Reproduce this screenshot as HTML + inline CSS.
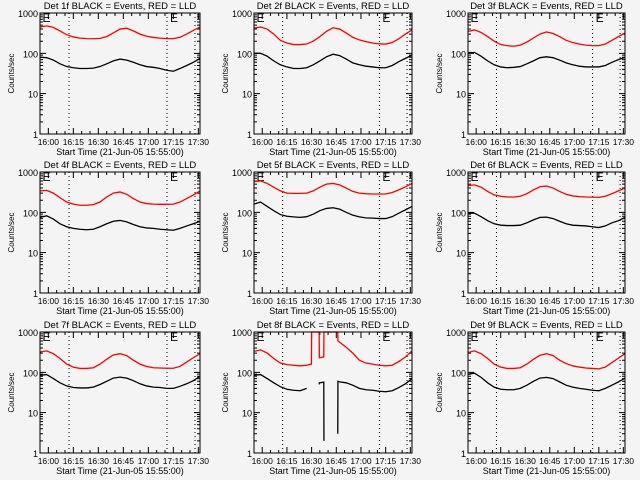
<!DOCTYPE html>
<html><head><meta charset="utf-8"><style>
html,body{margin:0;padding:0;background:#f4f4f4;}
svg{display:block;font-family:"Liberation Sans",sans-serif;}
</style></head><body>
<svg id="chart" width="640" height="480" viewBox="0 0 640 480"></svg>
<script>
const detLabels = ["1f","2f","3f","4f","5f","6f","7f","8f","9f"];
const times = [0,4,8,12,16,20,24,28,32,36,40,44,48,52,56,60,64,68,72,76,80,84,88,92,96];
const xTickLabels = ["16:00","16:15","16:30","16:45","17:00","17:15","17:30"];
const xTickMinutes = [5,20,35,50,65,80,95];
const yTickValues = [1,10,100,1000];
const yTickLabels = ["1","10","100","1000"];
const dottedMinutes = [17.4,76.2,93];
const eMarkerMinutes = [1.5,78];
const red1 = [450,480,440,360,290,255,238,232,230,235,260,320,400,420,360,300,265,248,238,232,232,250,300,370,450];
const blk1 = [80,78,68,55,47,44,42,42,43,47,55,65,72,68,60,52,47,45,42,38,36,42,50,60,75];
const red2 = [420,450,400,300,210,180,165,165,170,200,260,350,430,400,320,250,215,195,180,172,170,185,230,300,380];
const blk2 = [100,100,85,65,52,46,42,42,44,52,65,82,95,88,72,58,52,48,46,44,44,50,62,75,90];
const red3 = [350,380,330,260,200,165,155,150,160,190,240,300,340,310,260,210,185,170,160,155,155,170,210,260,320];
const blk3 = [105,105,85,65,52,46,44,45,47,55,65,78,82,78,68,58,52,48,46,46,46,50,60,70,80];
const red4 = [340,350,300,230,180,160,150,150,155,180,240,300,320,280,220,180,165,160,158,158,160,180,220,270,340];
const blk4 = [75,82,68,52,44,40,38,37,38,44,52,60,63,58,50,44,41,40,38,37,36,40,46,52,60];
const red5 = [580,600,520,420,340,300,295,295,300,340,420,500,520,480,400,330,300,290,285,285,285,310,360,430,520];
const blk5 = [160,180,140,110,88,80,77,75,78,90,110,125,130,120,100,85,77,73,72,70,70,78,95,115,140];
const red6 = [460,480,420,330,270,250,240,240,250,290,360,430,450,400,330,280,255,245,240,238,235,250,290,340,400];
const blk6 = [95,95,78,62,52,48,47,47,48,55,65,75,76,70,60,52,48,47,46,44,42,46,55,62,75];
const red7 = [320,340,290,220,160,135,125,125,130,160,210,270,290,260,200,160,140,130,128,126,126,140,180,230,290];
const blk7 = [85,88,70,55,46,42,41,41,43,50,60,72,76,72,62,52,46,43,42,40,40,45,52,62,80];
const red8Times = [0,4,8,12,16,20,24,28,32,34.9,35,39.6,39.7,42.4,42.5,50.9,51,52,56,60,64,68,72,76,80,84,88,92,96];
const red8 = [330,360,300,220,170,155,150,145,150,160,5000,5000,230,240,5000,5000,600,560,420,300,200,170,160,150,145,150,185,240,340];
const blk8Times = [0,4,8,12,16,20,24,28,32,34.9,39.6,39.7,42.4,42.5,46,50.9,51,52,56,60,64,68,72,76,80,84,88,92,96];
const blk8 = [85,88,70,55,44,38,36,35,40,null,50,55,57,2,null,3,60,58,55,48,40,37,36,34,33,35,42,52,70];
const red9 = [310,340,290,220,160,135,125,125,130,160,210,265,290,260,200,165,145,135,128,125,122,135,175,225,290];
const blk9 = [90,95,75,55,43,38,37,37,40,48,60,72,75,70,58,48,43,40,38,36,35,40,48,58,72];

const reds = [red1,red2,red3,red4,red5,red6,red7,red8,red9];
const blks = [blk1,blk2,blk3,blk4,blk5,blk6,blk7,blk8,blk9];
const redTimes = [times,times,times,times,times,times,times,red8Times,times];
const blkTimes = [times,times,times,times,times,times,times,blk8Times,times];

const NS = "http://www.w3.org/2000/svg";
const svg = document.getElementById("chart");
function mk(tag, attrs, parent){const e=document.createElementNS(NS,tag);for(const k in attrs)e.setAttribute(k,attrs[k]);(parent||svg).appendChild(e);return e;}
const colLeft=[40,254,468], colRight=[200,412,625], rowTop=[13,172,332], plotH=121, tMax=96;

for(let p=0;p<9;p++){
  const c=p%3, r=Math.floor(p/3);
  const L=colLeft[c], R=colRight[c], T=rowTop[r], B=T+plotH;
  const xs = m => L + (m/tMax)*(R-L);
  const ys = v => { const cv=Math.max(1,Math.min(1000,v)); return B - (Math.log10(cv)/3)*plotH; };
  const g = mk("g",{});
  
  
  const title = mk("text",{x:(L+R)/2,y:T-4,"text-anchor":"middle","font-size":"9.5"},g);
  title.textContent = "Det "+detLabels[p]+" BLACK = Events, RED = LLD";
  
  
  const ylab = mk("text",{x:0,y:0,"text-anchor":"middle","font-size":"8",transform:`translate(${L-26},${(T+B)/2}) rotate(-90)`},g);
  ylab.textContent = "Counts/sec";
  
  
  const xlab = mk("text",{x:(L+R)/2,y:B+21,"text-anchor":"middle","font-size":"9"},g);
  xlab.textContent = "Start Time (21-Jun-05 15:55:00)";
  
  
  dottedMinutes.forEach(m=>{const l=mk("line",{x1:xs(m),x2:xs(m),y1:T,y2:B,stroke:"#000","stroke-width":1,"stroke-dasharray":"1,3"},g);
    
    });
  eMarkerMinutes.forEach(m=>{const t=mk("text",{x:xs(m),y:T+9,"font-size":"12"},g);t.textContent="E";
    
    });
  let tk="";
  for(let d=0;d<3;d++)for(let k=1;k<10;k++){const y=ys(Math.pow(10,d)*k);const len=k===1?6:3;tk+=`M${L},${y}h${len}M${R},${y}h${-len}`;}
  for(let m=0;m<=tMax;m+=5){const x=xs(m);const len=((m-5)%15===0)?6:3;tk+=`M${x},${B}v${-len}M${x},${T}v${len}`;}
  const ticks=mk("path",{d:tk,stroke:"#000","stroke-width":1,fill:"none"},g);
  
  
  yTickValues.forEach((v,i)=>{const t=mk("text",{x:L-2,y:ys(v)+4,"text-anchor":"end","font-size":"9"},g);t.textContent=yTickLabels[i];
    
    });
  xTickMinutes.forEach((m,i)=>{const t=mk("text",{x:xs(m),y:B+11,"text-anchor":"middle","font-size":"8.5"},g);t.textContent=xTickLabels[i];
    
    });
  function series(tt,vv,color,name){
    let d="",pen=false;
    for(let i=0;i<tt.length;i++){
      if(vv[i]===null){pen=false;continue;}
      const x=xs(tt[i]),y=ys(vv[i]);
      d+=(pen?"L":"M")+x+","+y;pen=true;
    }
    const pth=mk("path",{d:d,stroke:color,"stroke-width":1.3,fill:"none"},g);
    
    
  }
  series(redTimes[p],reds[p],"#ff0000","lld-series");
  series(blkTimes[p],blks[p],"#000000","events-series");
  const box=mk("rect",{x:L,y:T,width:R-L,height:plotH,fill:"none",stroke:"#000","stroke-width":1},g);
  
  
}
</script>
</body></html>
